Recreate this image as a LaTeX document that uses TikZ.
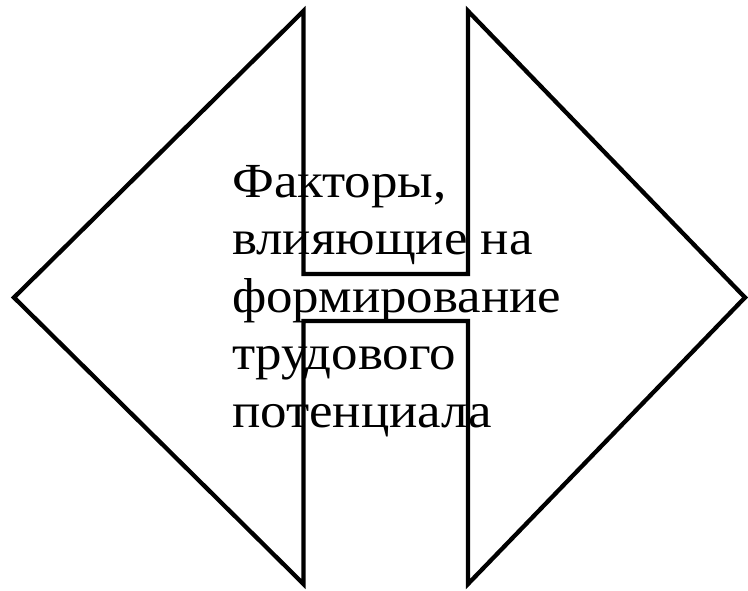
\documentclass[tikz,border=0pt]{standalone}
\usepackage{fontspec}
\setmainfont[FakeStretch=1.08]{Liberation Serif}
\begin{document}
\begin{tikzpicture}[x=1pt,y=-1pt,
  outline/.style={draw=black,line width=4.3pt,line join=miter},
  label/.style={font=\fontsize{49}{57.5}\selectfont,align=left,inner sep=0pt,anchor=north west}]
\useasboundingbox (0,0) rectangle (748,591);
\draw[outline] (303.5,11) -- (303.5,274) -- (468,274) -- (468,11) -- (745,297.5)
  -- (468,584) -- (468,321) -- (303.5,321) -- (303.5,584) -- (14,297.5) -- cycle;
\node[label] (t) at (232,165) {Факторы,\\влияющие на\\формирование\\трудового\\потенциала};
\end{tikzpicture}
\end{document}
